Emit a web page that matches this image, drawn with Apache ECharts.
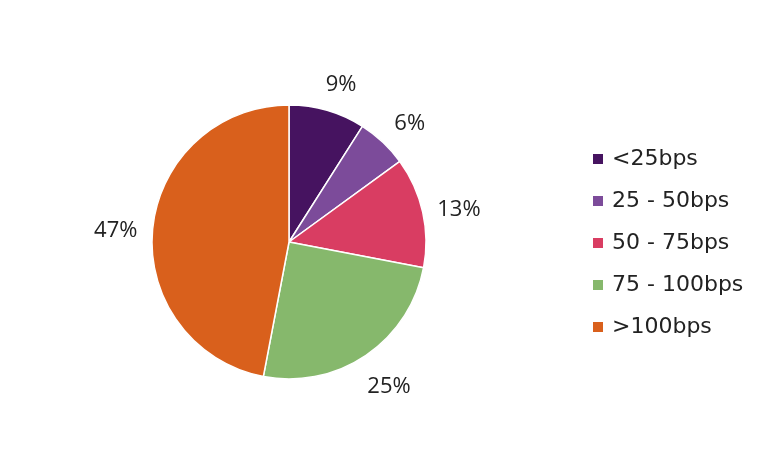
<!DOCTYPE html>
<html><head><meta charset="utf-8">
<script src="https://cdn.jsdelivr.net/npm/echarts@6/dist/echarts.min.js"></script>
<style>html,body{margin:0;padding:0;background:#fff}#c{width:768px;height:471px}</style>
</head><body><div id="c"></div>
<script>
const categories = ['<25bps', '25 - 50bps', '50 - 75bps', '75 - 100bps', '>100bps'];
const values = [9, 6, 13, 25, 47];
const colors = ['#461360', '#7c4b9a', '#d93d62', '#86b86c', '#d9601c'];

const chart = echarts.init(document.getElementById('c'));
chart.setOption({
  backgroundColor: '#fff',
  textStyle: { fontFamily: 'DejaVu Sans' },
  legend: {
    orient: 'vertical',
    left: 586, top: 143,
    itemWidth: 12, itemHeight: 12, itemGap: 20,
    icon: 'rect',
    textStyle: { fontSize: 22, color: '#222', fontFamily: 'DejaVu Sans', padding: [0, 0, 0, 3] },
    data: categories
  },
  series: [{
    type: 'pie',
    center: [289, 242],
    radius: 137,
    startAngle: 90,
    clockwise: true,
    animation: false,
    itemStyle: { borderColor: '#fff', borderWidth: 1.5 },
    label: { show: true, position: 'outside', formatter: '{c}%', fontSize: 22, color: '#222', fontFamily: 'Open Sans' },
    labelLine: { show: false, length: 32, length2: 0 },
    labelLayout: function () { return { align: 'center', verticalAlign: 'middle', dy: 5 }; },
    data: categories.map((n, i) => ({ name: n, value: values[i], itemStyle: { color: colors[i] } }))
  }]
});
</script></body></html>
